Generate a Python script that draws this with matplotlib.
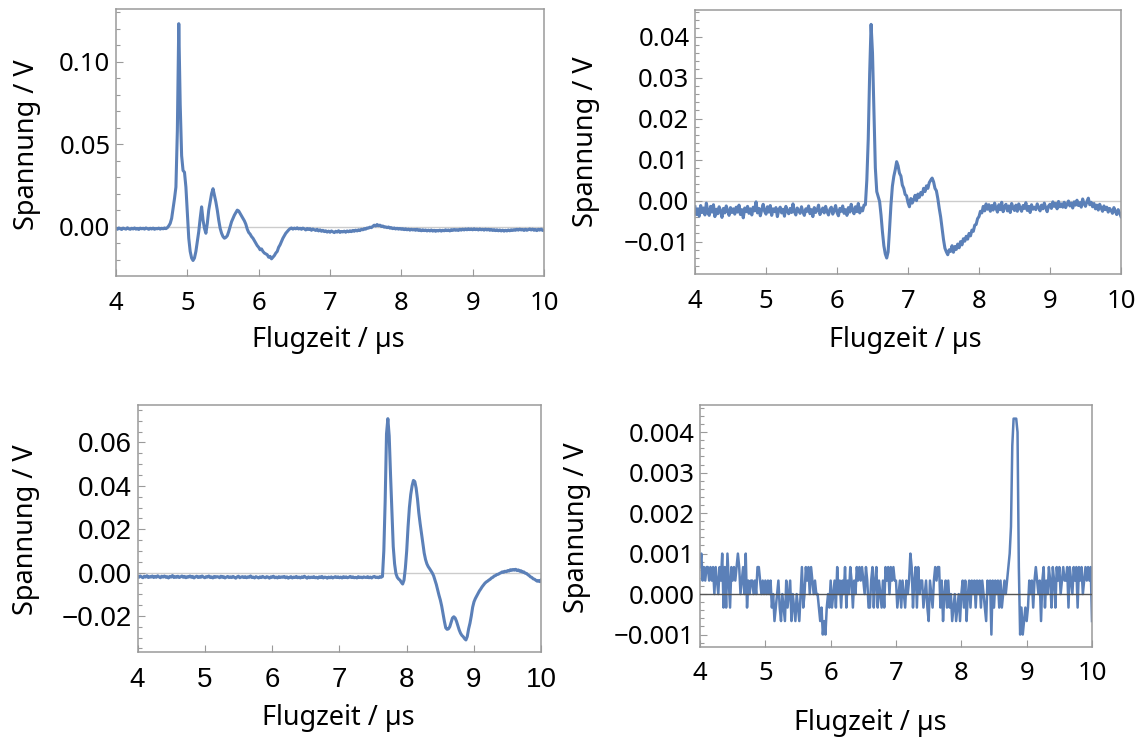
import numpy as np
import matplotlib
matplotlib.use("Agg")
import matplotlib.pyplot as plt

# Oscilloscope traces: one sample every 0.02 µs from 4.00 µs to 10.00 µs
# (ten samples per row below, last value is the 10.00 µs sample)
T_START = 4.0
T_STEP = 0.02

trace1_mV = [
    -1.0, -1.6, -0.8, -1.3, -1.7, -0.9, -1.2, -1.5, -0.7, -1.3,
    -1.6, -1.0, -1.4, -0.8, -1.5, -1.1, -1.7, -0.9, -1.3, -1.0,
    -1.5, -0.8, -1.2, -1.6, -1.0, -1.4, -0.9, -1.6, -1.1, -1.3,
    -0.9, -1.5, -1.0, -1.3, -0.8, -1.2, -0.6, 0.5, 2.0, 5.0,
    11.0, 17.0, 24.0, 58.0, 123.0, 74.0, 43.0, 34.0, 33.0, 24.0,
    9.0, -7.0, -15.0, -19.0, -20.5, -19.0, -15.0, -9.0, -3.0, 5.0,
    12.0, 4.0, -1.0, -4.0, 2.0, 10.0, 15.0, 20.0, 23.0, 19.0,
    15.0, 10.0, 4.0, -1.0, -4.0, -6.0, -7.0, -6.5, -5.5, -3.0,
    0.0, 3.0, 5.0, 7.0, 8.5, 10.0, 9.5, 8.0, 6.5, 5.0,
    3.5, 1.5, -1.5, -3.5, -4.5, -6.0, -7.0, -8.5, -10.0, -11.5,
    -12.5, -14.0, -13.5, -15.0, -16.0, -16.5, -17.0, -18.5, -18.0, -19.5,
    -18.5, -17.5, -16.0, -15.0, -12.5, -11.0, -9.0, -7.0, -5.5, -4.0,
    -3.0, -2.0, -1.2, -0.8, -1.5, -0.9, -1.3, -0.7, -1.4, -1.0,
    -1.6, -0.9, -1.3, -2.0, -1.1, -1.7, -1.2, -2.2, -1.4, -1.9,
    -2.3, -1.6, -2.6, -1.9, -2.8, -2.2, -3.0, -2.5, -3.3, -2.7,
    -3.4, -2.6, -3.1, -3.6, -2.8, -3.3, -2.5, -3.5, -2.9, -3.2,
    -2.7, -3.4, -2.6, -3.1, -2.5, -3.0, -2.3, -2.8, -2.1, -2.6,
    -1.9, -2.4, -1.6, -1.9, -1.2, -1.5, -0.8, -0.9, -0.3, -0.6,
    0.2, 0.9, 0.4, 1.3, 0.6, 0.9, 0.1, 0.4, -0.3, -0.1,
    -0.6, -0.2, -0.9, -0.6, -1.2, -0.8, -1.4, -1.0, -1.5, -1.1,
    -1.6, -1.2, -1.8, -1.3, -1.9, -1.5, -2.1, -1.6, -2.0, -1.7,
    -2.2, -1.6, -2.3, -1.8, -2.5, -1.9, -2.4, -2.0, -2.6, -2.1,
    -2.6, -2.0, -2.7, -2.2, -2.8, -2.3, -2.6, -2.1, -2.7, -2.2,
    -2.5, -1.9, -2.4, -2.0, -2.6, -1.8, -2.3, -1.7, -2.2, -1.8,
    -2.3, -1.6, -2.1, -1.5, -2.0, -1.4, -1.9, -1.3, -1.8, -1.4,
    -1.9, -1.3, -1.8, -1.5, -2.0, -1.4, -1.9, -1.6, -2.1, -1.5,
    -2.0, -1.6, -2.2, -1.7, -2.3, -1.8, -2.4, -1.9, -2.5, -2.0,
    -2.6, -2.1, -2.7, -2.2, -2.6, -2.0, -2.5, -1.9, -2.3, -1.8,
    -2.2, -1.6, -2.1, -1.5, -2.0, -1.7, -2.3, -1.6, -2.2, -1.8,
    -1.4, -2.0, -1.5, -2.2, -1.7, -2.4, -1.6, -2.1, -1.5, -2.3,
    -2.0,
]

trace2_mV = [
    -1.5, -3.4, -2.0, -3.8, -1.2, -2.9, -1.8, -3.5, -0.6, -2.7,
    -3.6, -1.4, -2.8, -1.0, -3.9, -2.1, -3.2, -1.5, -2.6, -4.1,
    -1.9, -3.0, -1.3, -2.5, -3.6, -1.7, -2.9, -2.0, -3.3, -1.6,
    -2.8, -1.1, -3.4, -2.2, -4.2, -1.8, -2.7, -1.4, -3.1, -2.0,
    -3.5, -1.6, -2.5, -0.3, -3.0, -1.9, -3.7, -2.2, -0.9, -2.6,
    -3.3, -1.5, -2.8, -1.2, -3.6, -2.0, -2.7, -1.7, -3.9, -2.3,
    -1.6, -3.0, -2.1, -3.8, -1.4, -2.6, -3.2, -1.9, -2.9, -0.8,
    -2.7, -3.5, -1.8, -2.4, -3.1, -1.5, -2.8, -3.6, -2.0, -2.6,
    -1.3, -3.2, -2.2, -3.9, -1.7, -2.9, -2.3, -1.1, -3.4, -2.5,
    -1.8, -3.0, -1.4, -2.7, -3.5, -2.1, -1.6, -3.3, -2.4, -1.2,
    -2.9, -3.7, -1.9, -2.6, -1.3, -3.1, -2.2, -3.6, -1.7, -2.8,
    -0.9, -2.4, -3.2, -1.5, -2.7, -0.7, -3.0, -1.8, -2.5, -1.1,
    -1.0, 5.0, 15.0, 31.0, 43.0, 36.0, 22.0, 8.0, 2.2, 1.0,
    -0.2, -3.5, -7.6, -11.0, -13.0, -14.0, -12.5, -7.0, -1.0, 3.5,
    5.9, 7.5, 9.5, 8.5, 6.7, 6.0, 3.8, 3.0, 1.5, 1.2,
    -0.5, -1.5, 0.5, -0.6, 0.2, 1.3, 0.0, 1.6, 0.8, 2.0,
    1.4, 3.0, 2.2, 3.6, 3.0, 4.4, 5.0, 5.5, 4.6, 3.0,
    2.4, 0.5, -1.9, -4.0, -6.7, -9.5, -11.6, -12.5, -13.2, -12.0,
    -12.4, -11.0, -12.6, -11.2, -11.9, -10.6, -11.5, -10.0, -10.8, -9.3,
    -9.9, -8.7, -9.4, -8.0, -8.6, -7.2, -7.5, -6.0, -5.8, -4.4,
    -3.9, -2.6, -3.0, -1.4, -2.5, -0.8, -2.1, -1.0, -2.6, -1.2,
    -2.3, -0.6, -1.9, -2.8, -1.0, -2.2, -0.4, -2.7, -1.5, -0.9,
    -2.5, -1.3, -2.9, -0.7, -1.8, -2.4, -1.1, -2.6, -0.8, -1.9,
    -2.6, -1.2, -1.9, -0.5, -2.4, -1.4, -2.9, -1.0, -2.1, -1.6,
    -2.2, -0.8, -1.7, -2.5, -1.1, -2.0, -0.6, -1.8, -2.7, -1.3,
    -0.9, -1.9, -0.3, -1.4, -0.7, -2.0, -0.2, -1.5, -0.8, -1.6,
    -0.4, -1.7, -0.9, -0.1, -1.3, -0.6, -1.8, -0.3, -1.1, 0.1,
    -1.2, -0.5, -1.6, 0.4, -0.8, -1.4, -0.2, 0.6, -1.0, -0.4,
    -1.5, -0.7, -2.0, -1.1, -2.3, -0.9, -1.8, -2.6, -1.3, -2.2,
    -1.6, -2.8, -1.9, -2.4, -3.1, -1.7, -2.6, -3.4, -2.2, -3.0,
    -3.9,
]

trace3_mV = [
    -1.8, -2.2, -1.6, -2.0, -2.4, -1.7, -2.1, -1.5, -2.3, -1.9,
    -2.1, -1.6, -2.3, -1.8, -2.2, -1.5, -2.0, -2.4, -1.7, -2.1,
    -1.6, -2.2, -1.9, -2.5, -1.8, -2.1, -1.4, -2.3, -1.9, -2.2,
    -1.7, -2.3, -2.0, -1.6, -2.2, -1.8, -2.4, -1.9, -2.1, -1.6,
    -2.2, -1.8, -2.5, -2.0, -1.7, -2.3, -1.9, -2.2, -1.6, -2.1,
    -2.4, -1.9, -2.1, -1.6, -2.3, -2.0, -2.5, -1.8, -2.2, -1.9,
    -2.0, -2.4, -1.7, -2.2, -1.9, -2.5, -2.1, -1.8, -2.3, -2.0,
    -2.3, -1.8, -2.2, -2.6, -2.0, -1.7, -2.4, -2.1, -1.9, -2.3,
    -1.9, -2.4, -2.0, -2.2, -1.6, -2.3, -2.1, -2.5, -1.9, -2.2,
    -2.5, -2.0, -2.3, -1.8, -2.2, -2.4, -1.9, -2.1, -2.6, -2.0,
    -2.2, -1.7, -2.4, -2.1, -2.5, -1.9, -2.3, -2.0, -2.2, -1.8,
    -2.4, -2.0, -2.6, -2.2, -1.9, -2.5, -2.1, -2.3, -1.8, -2.4,
    -2.1, -2.5, -2.0, -2.3, -1.7, -2.2, -2.6, -2.0, -2.4, -2.1,
    -2.3, -1.9, -2.4, -2.2, -2.6, -2.0, -2.3, -1.8, -2.5, -2.1,
    -2.2, -2.6, -2.1, -2.4, -2.0, -2.5, -2.2, -1.9, -2.3, -2.0,
    -2.4, -2.1, -2.5, -1.9, -2.3, -2.0, -2.4, -2.2, -1.8, -2.3,
    -2.0, -2.4, -2.2, -2.5, -1.9, -2.3, -2.1, -2.4, -2.0, -2.2,
    -2.3, -1.9, -2.4, -2.1, -2.5, -2.0, -1.8, -2.3, -2.1, -2.4,
    -1.9, -2.2, -1.8, 10.0, 33.0, 64.0, 71.0, 63.0, 45.0, 28.8,
    12.0, 4.0, -0.5, -2.2, -3.0, -3.5, -4.5, -5.3, -3.5, 2.0,
    10.0, 21.0, 30.0, 36.0, 40.0, 42.5, 42.0, 39.0, 34.0, 27.5,
    22.5, 18.0, 13.5, 9.0, 6.0, 4.0, 2.7, 1.8, 0.8, -0.2,
    -1.5, -3.5, -5.5, -8.0, -10.5, -12.7, -15.5, -19.0, -22.5, -25.5,
    -26.2, -26.0, -25.0, -23.0, -21.0, -20.4, -21.0, -22.5, -24.5, -26.5,
    -28.0, -29.0, -29.6, -30.5, -31.1, -29.5, -26.0, -23.4, -20.0, -16.0,
    -13.5, -12.0, -10.8, -9.5, -8.5, -7.6, -6.6, -5.8, -5.0, -4.4,
    -4.0, -3.5, -3.1, -2.5, -2.2, -1.6, -1.4, -0.9, -0.8, -0.4,
    -0.1, 0.3, 0.1, 0.6, 0.4, 0.9, 0.7, 1.3, 1.0, 1.4,
    1.1, 1.5, 0.9, 1.2, 0.6, 0.8, 0.2, 0.3, -0.3, -0.4,
    -1.0, -1.4, -2.0, -2.3, -2.9, -3.1, -3.6, -4.0, -3.7, -4.2,
    -3.4,
]

# fourth trace in digitizer counts, one count = 1/3 mV
ADC_STEP_V = 0.001 / 3
trace4_counts = [
    2, 3, 1, 2, 1, 2, 2, 1, 2, 1,
    2, 0, 2, 1, 0, 2, 1, 3, -1, 2,
    -1, 3, 1, -1, 2, 1, 2, 1, 2, 3,
    2, 0, 1, 2, 0, 3, -1, 1, 0, 1,
    1, 0, 1, 0, 2, 2, 1, 0, 1, 0,
    1, 0, 1, 0, 1, -1, 0, -2, -1, 0,
    1, -1, -2, 0, -1, -2, 1, -1, 0, 1,
    -2, 0, -1, -2, 0, -1, -2, 0, 2, -1,
    0, 2, 1, 2, 0, 2, 1, 0, 1, 0,
    0, -1, -2, -1, -3, -2, -3, -1, 0, -1,
    1, -1, 0, 1, -1, 2, 0, 1, -1, 1,
    0, 2, -1, 1, 0, 2, 1, -1, 1, 0,
    2, 1, 2, 1, 2, 1, 0, 2, 1, -1,
    -1, 1, 2, -1, 1, 2, -1, 1, 0, -1,
    1, -1, 2, 1, 2, 0, 2, 1, 2, 1,
    1, -1, 0, 1, -1, 1, 0, -1, 1, 0,
    1, 3, 2, -1, 1, 2, -1, 2, 0, 1,
    1, -1, 0, 1, -1, -2, 1, 0, -1, 1,
    2, 1, 2, 2, -1, 1, -2, 0, 1, -1,
    1, -1, 0, -2, -1, 0, -2, -1, 0, -2,
    0, 1, -1, 1, -2, 0, 1, -1, 1, 0,
    1, -1, 1, 0, 1, -1, 1, 0, -1, -2,
    1, 0, 1, -3, 1, -1, 1, 0, 1, -1,
    1, -1, 0, 1, 0, 1, 2, 3, 5, 11,
    13, 13, 13, 12, 2, -3, -1, -3, -2, -1,
    -2, -1, 1, 0, 1, -1, 1, 2, 1, 0,
    1, -2, 1, 2, -1, 1, 0, 2, 1, -1,
    2, 1, -1, 2, 1, 2, 0, 1, 2, 1,
    1, 2, -1, 2, 1, 0, 2, 1, 2, -1,
    2, 1, 2, 0, 1, 2, 1, 2, 1, 2,
    -2,
]

x_ticks = [4, 5, 6, 7, 8, 9, 10]
x_label = "Flugzeit / µs"
y_label = "Spannung / V"

LINE_COLOR = "#5b80b8"
FRAME_COLOR = "#9a9a9a"
W, H = 1144, 740


def sample_times(values):
    return T_START + T_STEP * np.arange(len(values))


def fmt(v, digits):
    s = f"{0.0 if abs(v) < 1e-12 else v:.{digits}f}"
    return s.replace("-", "\u2212")


def make_panel(fig, box, t, v, ylim, majors, minor_step, digits, tick_font,
               tick_size, zero_color, zero_on_top=False, lw=2.2):
    x0, y0, x1, y1 = box
    ax = fig.add_axes([x0 / W, 1 - y1 / H, (x1 - x0) / W, (y1 - y0) / H])
    ax.plot(t, v, color=LINE_COLOR, lw=lw, zorder=2)
    ax.axhline(0, color=zero_color, lw=1.0, zorder=3 if zero_on_top else 1)
    ax.set_xlim(4, 10)
    ax.set_ylim(*ylim)

    ax.set_xticks(x_ticks, [str(x) for x in x_ticks],
                  fontsize=tick_size, family=tick_font)
    ax.set_yticks(majors, [fmt(m, digits) for m in majors],
                  fontsize=tick_size, family=tick_font)
    lo = np.ceil(ylim[0] / minor_step) * minor_step
    ax.set_yticks(np.arange(lo, ylim[1], minor_step), minor=True)

    ax.tick_params(axis="both", which="both", direction="in",
                   color=FRAME_COLOR, width=0.8, labelcolor="black",
                   top=False, right=False)
    ax.tick_params(axis="y", which="major", length=5, pad=4)
    ax.tick_params(axis="y", which="minor", length=2.8)
    ax.tick_params(axis="x", which="major", length=5, pad=10.5)
    for s in ax.spines.values():
        s.set_color(FRAME_COLOR)
        s.set_linewidth(1.1)
    return ax


fig = plt.figure(figsize=(W / 100, H / 100), dpi=100)

v1 = np.array(trace1_mV) / 1000
make_panel(fig, (116, 9, 544, 276), sample_times(v1), v1,
           (-0.0299, 0.1319), [0.0, 0.05, 0.10], 0.01, 2,
           "Noto Sans", 18.5, "#cccccc")

v2 = np.array(trace2_mV) / 1000
make_panel(fig, (695, 10, 1121, 274), sample_times(v2), v2,
           (-0.0179, 0.0465), [-0.01, 0.0, 0.01, 0.02, 0.03, 0.04], 0.002, 2,
           "Noto Sans", 18.5, "#cccccc")

v3 = np.array(trace3_mV) / 1000
make_panel(fig, (137.5, 405, 541.3, 652.3), sample_times(v3), v3,
           (-0.0368, 0.0773), [-0.02, 0.0, 0.02, 0.04, 0.06], 0.005, 2,
           "Liberation Sans", 20, "#cccccc")

v4 = np.array(trace4_counts) * ADC_STEP_V
make_panel(fig, (700, 405, 1092, 646.7), sample_times(v4), v4,
           (-0.0013, 0.00467), [-0.001, 0.0, 0.001, 0.002, 0.003, 0.004],
           0.0002, 3, "Noto Sans", 18.5, "#555555", zero_on_top=True, lw=1.8)

# axis titles, placed per panel
label_kw = dict(ha="center", va="center", fontsize=19.5, family="Noto Sans")
for (xx, xy), (yx, yy) in [((328, 340), (27, 145)),
                           ((905, 340), (586, 142)),
                           ((338, 718), (26, 530)),
                           ((870, 723), (577, 528))]:
    fig.text(xx / W, 1 - xy / H, x_label, **label_kw)
    fig.text(yx / W, 1 - yy / H, y_label, rotation=90, **label_kw)

fig.savefig("out.png", dpi=100)
